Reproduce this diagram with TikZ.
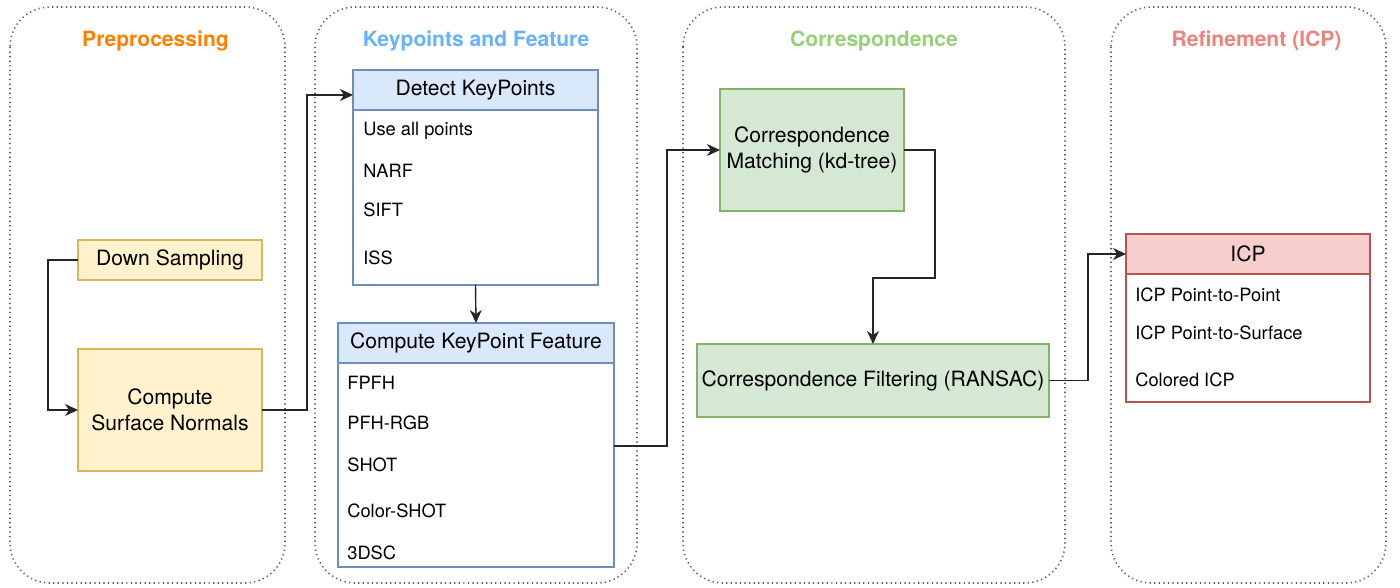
\documentclass[tikz,border=0pt]{standalone}
\usepackage{fontspec}
\setmainfont{TeX Gyre Heros}
\usepackage{xcolor}
\usetikzlibrary{arrows.meta}
\definecolor{prepColor}{RGB}{255, 128, 0}
\definecolor{keyColor}{RGB}{102, 178, 255}
\definecolor{corrColor}{RGB}{151, 208, 119}
\definecolor{refColor}{RGB}{238, 130, 126}
\definecolor{yellowFill}{HTML}{FFF2CC}
\definecolor{yellowLine}{HTML}{D6B656}
\definecolor{blueFill}{HTML}{DAE8FC}
\definecolor{blueLine}{HTML}{6C8EBF}
\definecolor{greenFill}{HTML}{D5E8D4}
\definecolor{greenLine}{HTML}{82B366}
\definecolor{redFill}{HTML}{F8CECC}
\definecolor{redLine}{HTML}{B85450}
\definecolor{stageGray}{RGB}{90, 90, 90}

\begin{document}
\begin{tikzpicture}
            \tikzstyle{stage} = [draw=stageGray, line width=0.9pt, dash pattern=on 0.7pt off 1.9pt, rounded corners=0.8cm]
            \tikzstyle{title} = [font=\fontsize{12}{14}\selectfont\bfseries]
            \tikzstyle{box} = [line width=0.8pt, inner sep=0pt, outer sep=0pt, align=center, font=\fontsize{12}{14.5}\selectfont]
            \tikzstyle{prep} = [box, draw=yellowLine, fill=yellowFill, minimum width=3.68cm]
            \tikzstyle{corr} = [box, draw=greenLine, fill=greenFill]
            \tikzstyle{khead} = [box, draw=blueLine, fill=blueFill, minimum height=0.8cm]
            \tikzstyle{kbody} = [box, draw=blueLine, fill=white]
            \tikzstyle{rhead} = [box, draw=redLine, fill=redFill, minimum height=0.8cm]
            \tikzstyle{rbody} = [box, draw=redLine, fill=white]
            \tikzstyle{item} = [anchor=west, inner sep=0pt, font=\fontsize{10.4}{12}\selectfont]
            \tikzstyle{arrow} = [-{Stealth[length=2.6mm, width=2.4mm, inset=0.8mm]}, line width=0.8pt, black!85]

            \useasboundingbox (0,0) rectangle (28,-11.76);

            % Stages
            \draw[stage] (0.2,-0.14) rectangle (5.7,-11.66);
            \draw[stage] (6.3,-0.14) rectangle (12.74,-11.66);
            \draw[stage] (13.66,-0.14) rectangle (21.3,-11.66);
            \draw[stage] (22.22,-0.14) rectangle (27.72,-11.66);

            % Preprocessing
            \node[prep, minimum height=0.8cm] (p1) at (3.4,-5.2) {Down Sampling};
            \node[prep, minimum height=2.44cm] (p2) at (3.4,-8.2) {Compute\\Surface Normals};

            % Keypoints
            \node[khead, minimum width=4.9cm] (k1) at (9.51,-1.8) {Detect KeyPoints};
            \node[kbody, minimum width=4.9cm, minimum height=3.5cm] (k1b) at (9.51,-3.95) {};
            \node[item] (k1i1) at (7.26,-2.62) {Use all points};
            \node[item] (k1i2) at (7.26,-3.41) {NARF};
            \node[item] (k1i3) at (7.26,-4.2) {SIFT};
            \node[item] (k1i4) at (7.26,-5.16) {ISS};

            \node[khead, minimum width=5.52cm] (k2) at (9.52,-6.86) {Compute KeyPoint Feature};
            \node[kbody, minimum width=5.52cm, minimum height=4.08cm] (k2b) at (9.52,-9.3) {};
            \node[item] (k2i1) at (6.94,-7.66) {FPFH};
            \node[item] (k2i2) at (6.94,-8.46) {PFH-RGB};
            \node[item] (k2i3) at (6.94,-9.3) {SHOT};
            \node[item] (k2i4) at (6.94,-10.22) {Color-SHOT};
            \node[item] (k2i5) at (6.94,-11.06) {3DSC};

            % Correspondence
            \node[corr, minimum width=3.68cm, minimum height=2.44cm] (c1) at (16.24,-3.0) {Correspondence\\Matching (kd-tree)};
            \node[corr, minimum width=7.04cm, minimum height=1.46cm] (c2) at (17.46,-7.61) {Correspondence Filtering (RANSAC)};

            % Refinement
            \node[rhead, minimum width=4.88cm] (r1) at (24.96,-5.08) {ICP};
            \node[rbody, minimum width=4.88cm, minimum height=2.56cm] (r1b) at (24.96,-6.76) {};
            \node[item] (r1i1) at (22.7,-5.9) {ICP Point-to-Point};
            \node[item] (r1i2) at (22.7,-6.66) {ICP Point-to-Surface};
            \node[item] (r1i3) at (22.7,-7.6) {Colored ICP};

            % Arrows
            \draw[arrow] (p1.west) -- ++(-0.6,0) |- (p2.west);
            \draw[arrow] (p2.east) -- ++(0.9,0) |- ([yshift=-0.1cm]k1.west);
            \draw[arrow] (k1b.south) -- (k2.north);
            \draw[arrow] ([yshift=0.38cm]k2b.east) -- ++(1.06,0) |- (c1.west);
            \draw[arrow] (c1.east) -- ++(0.62,0) -- ++(0,-2.56) -| (c2.north);
            \draw[arrow] (c2.east) -- ++(0.78,0) |- (r1.west);

            % Labels
            \node[title, prepColor] (t1) at (3.11,-0.82) {Preprocessing};
            \node[title, keyColor] (t2) at (9.52,-0.82) {Keypoints and Feature};
            \node[title, corrColor] (t3) at (17.48,-0.82) {Correspondence};
            \node[title, refColor] (t4) at (25.13,-0.82) {Refinement (ICP)};
        \end{tikzpicture}
\end{document}
